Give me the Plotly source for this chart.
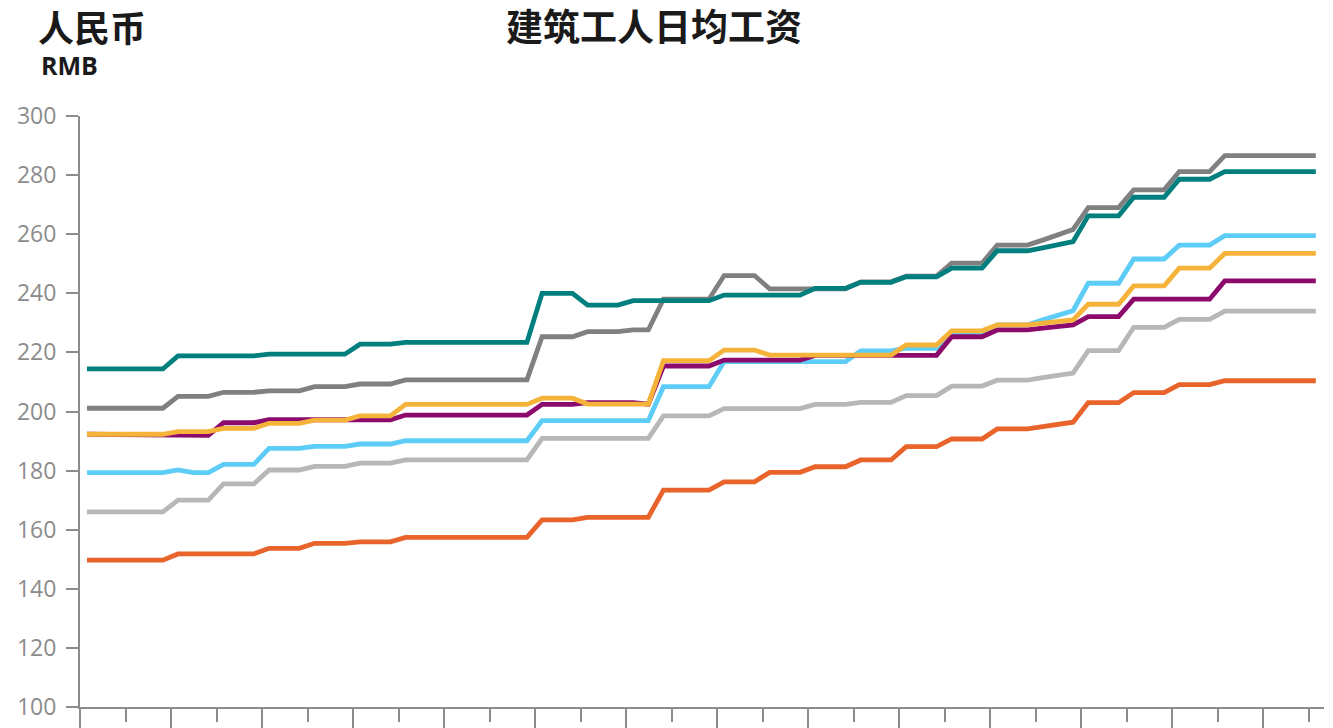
import plotly.graph_objects as go

# Point index (roughly monthly observations)
idx = list(range(82))

teal = [214.4, 214.4, 214.4, 214.4, 214.4, 214.4,
        218.8, 218.8, 218.8, 218.8, 218.8, 218.8,
        219.4, 219.4, 219.4, 219.4, 219.4, 219.4,
        222.8, 222.8, 222.8,
        223.4, 223.4, 223.4, 223.4, 223.4, 223.4, 223.4, 223.4, 223.4,
        240.0, 240.0, 240.0,
        236.0, 236.0, 236.0,
        237.5, 237.5, 237.5, 237.5, 237.5, 237.5,
        239.4, 239.4, 239.4, 239.4, 239.4, 239.4,
        241.7, 241.7, 241.7,
        243.7, 243.7, 243.7,
        245.6, 245.6, 245.6,
        248.5, 248.5, 248.5,
        254.4, 254.4, 254.4,
        255.4, 256.5, 257.5,
        266.2, 266.2, 266.2,
        272.5, 272.5, 272.5,
        278.6, 278.6, 278.6,
        281.2, 281.2, 281.2, 281.2, 281.2, 281.2, 281.2]

dark_gray = [201.1, 201.1, 201.1, 201.1, 201.1, 201.1,
             205.1, 205.1, 205.1,
             206.5, 206.5, 206.5,
             207.0, 207.0, 207.0,
             208.4, 208.4, 208.4,
             209.3, 209.3, 209.3,
             210.7, 210.7, 210.7, 210.7, 210.7, 210.7, 210.7, 210.7, 210.7,
             225.3, 225.3, 225.3,
             227.0, 227.0, 227.0,
             227.6, 227.6,
             238.0, 238.0, 238.0, 238.0,
             246.0, 246.0, 246.0,
             241.5, 241.5, 241.5, 241.5, 241.5, 241.5,
             243.9, 243.9, 243.9,
             245.8, 245.8, 245.8,
             250.2, 250.2, 250.2,
             256.3, 256.3, 256.3,
             258.0, 259.8, 261.6,
             269.0, 269.0, 269.0,
             275.0, 275.0, 275.0,
             281.2, 281.2, 281.2,
             286.6, 286.6, 286.6, 286.6, 286.6, 286.6, 286.6]

light_blue = [179.3, 179.3, 179.3, 179.3, 179.3, 179.3,
              180.2,
              179.3, 179.3,
              182.1, 182.1, 182.1,
              187.5, 187.5, 187.5,
              188.2, 188.2, 188.2,
              189.0, 189.0, 189.0,
              190.1, 190.1, 190.1, 190.1, 190.1, 190.1, 190.1, 190.1, 190.1,
              196.9, 196.9, 196.9, 196.9, 196.9, 196.9, 196.9, 196.9,
              208.4, 208.4, 208.4, 208.4,
              216.9, 216.9, 216.9, 216.9, 216.9, 216.9, 216.9, 216.9, 216.9,
              220.5, 220.5, 220.5,
              221.4, 221.4, 221.4,
              226.5, 226.5, 226.5,
              229.3, 229.3, 229.3,
              231.0, 232.5, 234.1,
              243.4, 243.4, 243.4,
              251.6, 251.6, 251.6,
              256.3, 256.3, 256.3,
              259.5, 259.5, 259.5, 259.5, 259.5, 259.5, 259.5]

yellow = [192.3, 192.3, 192.3, 192.3, 192.3, 192.3,
          193.2, 193.2, 193.2,
          194.3, 194.3, 194.3,
          196.0, 196.0, 196.0,
          197.1, 197.1, 197.1,
          198.5, 198.5, 198.5,
          202.4, 202.4, 202.4, 202.4, 202.4, 202.4, 202.4, 202.4, 202.4,
          204.5, 204.5, 204.5,
          202.5, 202.5, 202.5, 202.5, 202.5,
          217.2, 217.2, 217.2, 217.2,
          220.8, 220.8, 220.8,
          219.1, 219.1, 219.1, 219.1, 219.1, 219.1, 219.1, 219.1, 219.1,
          222.5, 222.5, 222.5,
          227.3, 227.3, 227.3,
          229.3, 229.3, 229.3,
          229.9, 230.5, 231.0,
          236.3, 236.3, 236.3,
          242.5, 242.5, 242.5,
          248.5, 248.5, 248.5,
          253.5, 253.5, 253.5, 253.5, 253.5, 253.5, 253.5]

purple = [192.3, 192.3, 192.3, 192.3, 192.3,
          191.9, 191.9, 191.9, 191.9,
          196.2, 196.2, 196.2,
          197.2, 197.2, 197.2, 197.2, 197.2, 197.2, 197.2, 197.2, 197.2,
          198.8, 198.8, 198.8, 198.8, 198.8, 198.8, 198.8, 198.8, 198.8,
          202.4, 202.4, 202.4,
          203.0, 203.0, 203.0, 203.0,
          202.5,
          215.4, 215.4, 215.4, 215.4,
          217.4, 217.4, 217.4, 217.4, 217.4, 217.4,
          219.0, 219.0, 219.0, 219.0, 219.0, 219.0, 219.0, 219.0, 219.0,
          225.3, 225.3, 225.3,
          227.6, 227.6, 227.6,
          228.2, 228.8, 229.3,
          232.1, 232.1, 232.1,
          238.0, 238.0, 238.0, 238.0, 238.0, 238.0,
          244.2, 244.2, 244.2, 244.2, 244.2, 244.2, 244.2]

light_gray = [166.0, 166.0, 166.0, 166.0, 166.0, 166.0,
              170.0, 170.0, 170.0,
              175.5, 175.5, 175.5,
              180.2, 180.2, 180.2,
              181.4, 181.4, 181.4,
              182.5, 182.5, 182.5,
              183.6, 183.6, 183.6, 183.6, 183.6, 183.6, 183.6, 183.6, 183.6,
              190.9, 190.9, 190.9, 190.9, 190.9, 190.9, 190.9, 190.9,
              198.5, 198.5, 198.5, 198.5,
              201.0, 201.0, 201.0, 201.0, 201.0, 201.0,
              202.4, 202.4, 202.4,
              203.1, 203.1, 203.1,
              205.4, 205.4, 205.4,
              208.6, 208.6, 208.6,
              210.6, 210.6, 210.6,
              211.5, 212.3, 213.0,
              220.6, 220.6, 220.6,
              228.5, 228.5, 228.5,
              231.2, 231.2, 231.2,
              234.0, 234.0, 234.0, 234.0, 234.0, 234.0, 234.0]

orange = [149.7, 149.7, 149.7, 149.7, 149.7, 149.7,
          151.8, 151.8, 151.8, 151.8, 151.8, 151.8,
          153.7, 153.7, 153.7,
          155.4, 155.4, 155.4,
          155.9, 155.9, 155.9,
          157.4, 157.4, 157.4, 157.4, 157.4, 157.4, 157.4, 157.4, 157.4,
          163.3, 163.3, 163.3,
          164.2, 164.2, 164.2, 164.2, 164.2,
          173.4, 173.4, 173.4, 173.4,
          176.2, 176.2, 176.2,
          179.4, 179.4, 179.4,
          181.3, 181.3, 181.3,
          183.6, 183.6, 183.6,
          188.1, 188.1, 188.1,
          190.7, 190.7, 190.7,
          194.1, 194.1, 194.1,
          194.9, 195.6, 196.4,
          203.0, 203.0, 203.0,
          206.4, 206.4, 206.4,
          209.1, 209.1, 209.1,
          210.4, 210.4, 210.4, 210.4, 210.4, 210.4, 210.4]

series = [
    (light_gray, "#B7B7B7"),
    (orange, "#E8642A"),
    (dark_gray, "#808080"),
    (teal, "#007F7E"),
    (light_blue, "#5DCDF7"),
    (purple, "#8C0A6B"),
    (yellow, "#F6B33A"),
]

AXIS = "#8C8C8C"

fig = go.Figure()
for vals, col in series:
    fig.add_trace(go.Scatter(x=idx, y=vals, mode="lines",
                             line=dict(color=col, width=4.8),
                             showlegend=False, hoverinfo="skip"))

fig.update_layout(
    width=1325, height=720,
    margin=dict(l=72, r=9, t=108, b=21, autoexpand=False),
    paper_bgcolor="white", plot_bgcolor="white",
    xaxis=dict(range=[-0.46, 81.54], showgrid=False, zeroline=False,
               automargin=False,
               showline=True, linecolor=AXIS, linewidth=2,
               ticks="outside", ticklen=20, tickwidth=2, tickcolor=AXIS,
               tick0=-0.46, dtick=6, showticklabels=False,
               minor=dict(tick0=-0.46, dtick=3, ticks="outside", ticklen=13,
                          tickwidth=2, tickcolor=AXIS, showgrid=False)),
    yaxis=dict(range=[100, 300], dtick=20, showgrid=False, zeroline=False,
               automargin=False,
               showline=True, linecolor=AXIS, linewidth=2,
               ticks="outside", ticklen=12, tickwidth=2, tickcolor=AXIS,
               tickfont=dict(family="Open Sans", size=23, color=AXIS),
               ticklabelstandoff=5),
    annotations=[
        dict(text="<b>建筑工人日均工资</b>", xref="paper", yref="paper",
             x=0.4614, y=1.154, xanchor="center", yanchor="middle",
             showarrow=False,
             font=dict(family="Noto Sans CJK SC", size=37, color="#1a1a1a")),
        dict(text="<b>人民币</b>", xref="paper", yref="paper",
             x=-0.0355, y=1.153, xanchor="left", yanchor="middle",
             showarrow=False,
             font=dict(family="Noto Sans CJK SC", size=36, color="#1a1a1a")),
        dict(text="<b>RMB</b>", xref="paper", yref="paper",
             x=-0.033, y=1.0863, xanchor="left", yanchor="middle",
             showarrow=False,
             font=dict(family="Open Sans", size=25, color="#1a1a1a")),
    ],
)

fig.write_html("out.html")
